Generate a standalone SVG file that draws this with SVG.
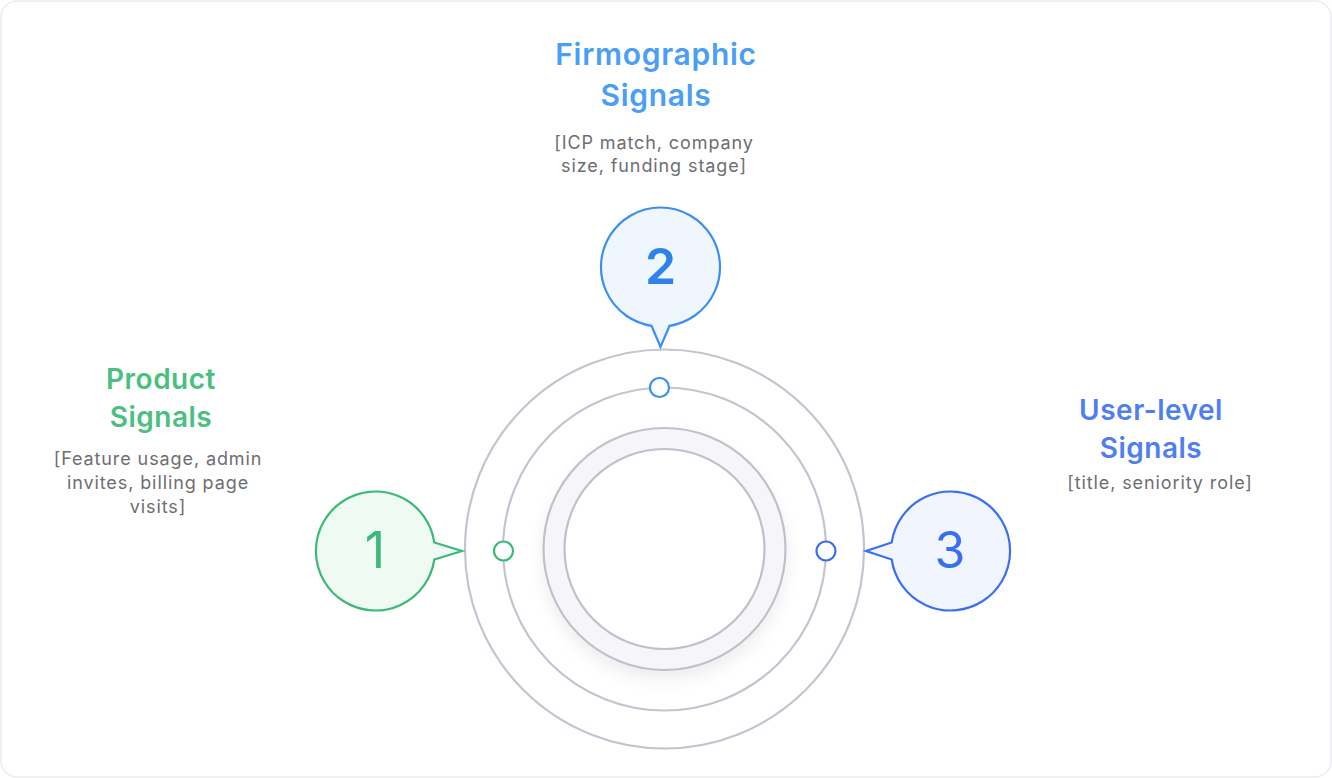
<svg xmlns="http://www.w3.org/2000/svg" width="1332" height="778" viewBox="0 0 1332 778">
<defs>
<style>
.ring{fill:none;stroke:#c4c4d0;stroke-width:2.2}
.title{font-family:Inter,"Liberation Sans",sans-serif;font-weight:600;font-size:28px;letter-spacing:0.5px;text-anchor:middle}
.sub{font-family:Inter,"Liberation Sans",sans-serif;font-size:18px;letter-spacing:0.9px;fill:#6e6e72;text-anchor:middle}
.num{font-family:Inter,"Liberation Sans",sans-serif;font-size:50px;text-anchor:middle}
</style>
<filter id="sh" x="-30%" y="-30%" width="160%" height="160%">
<feDropShadow dx="0" dy="8" stdDeviation="8" flood-color="#000" flood-opacity="0.07"/>
</filter>
</defs>
<rect x="0" y="0" width="1332" height="778" fill="#ffffff"/>
<rect x="1" y="1" width="1330" height="776" rx="16" fill="#ffffff" stroke="#ececf0" stroke-width="1.5"/>

<g id="rings">
<circle class="ring" cx="664.5" cy="549" r="199.5" fill="#ffffff"/>
<circle class="ring" cx="664.5" cy="549" r="161.5"/>
<circle cx="664.5" cy="549" r="121" fill="#f6f6f8" stroke="#c0c0cc" stroke-width="2.2" filter="url(#sh)"/>
<circle cx="664.5" cy="549" r="100" fill="#ffffff" stroke="#c0c0cc" stroke-width="2.2"/>
</g>

<g id="connectors">
<circle cx="503.5" cy="551" r="9.5" fill="#ffffff" stroke="#3cb878" stroke-width="2.2"/>
<circle cx="659.5" cy="387.5" r="9.5" fill="#ffffff" stroke="#3b8fef" stroke-width="2.2"/>
<circle cx="826" cy="551" r="9.5" fill="#ffffff" stroke="#3a6ff0" stroke-width="2.2"/>
</g>

<g id="node1">
<path d="M 434.3 542.5 A 59.5 59.5 0 1 0 434.3 559.5 L 462 551 Z" fill="#effaf3" stroke="#3cb878" stroke-width="2.2"/>
<text class="num" x="375" y="568" fill="#3cb878">1</text>
<text class="title" x="161" y="389" fill="#4bbf7f">Product</text>
<text class="title" x="161" y="427" fill="#4bbf7f">Signals</text>
<text class="sub" x="158" y="465">[Feature usage, admin</text>
<text class="sub" x="158" y="489">invites, billing page</text>
<text class="sub" x="158" y="513">visits]</text>
</g>

<g id="node2">
<path d="M 651.5 325.8 A 59.5 59.5 0 1 1 669.5 325.8 L 660.5 347 Z" fill="#f0f6fe" stroke="#3b8fef" stroke-width="2.2"/>
<text class="num" x="660.5" y="284" fill="#2f82ea" font-weight="600">2</text>
<text class="title" x="656" y="65" fill="#4a9ef5" style="font-size:30px;letter-spacing:0.7px">Firmographic</text>
<text class="title" x="656" y="106" fill="#4a9ef5" style="font-size:30px;letter-spacing:0.7px">Signals</text>
<text class="sub" x="654" y="149">[ICP match, company</text>
<text class="sub" x="654" y="172">size, funding stage]</text>
</g>

<g id="node3">
<path d="M 891.7 542.5 A 59.5 59.5 0 1 1 891.7 559.5 L 866 551 Z" fill="#f0f5fe" stroke="#3a6ff0" stroke-width="2.2"/>
<text class="num" x="950" y="568" fill="#3a6ff0">3</text>
<text class="title" x="1151" y="420" fill="#4f7ef0">User-level</text>
<text class="title" x="1151" y="458" fill="#4f7ef0">Signals</text>
<text class="sub" x="1160" y="489">[title, seniority role]</text>
</g>
</svg>
